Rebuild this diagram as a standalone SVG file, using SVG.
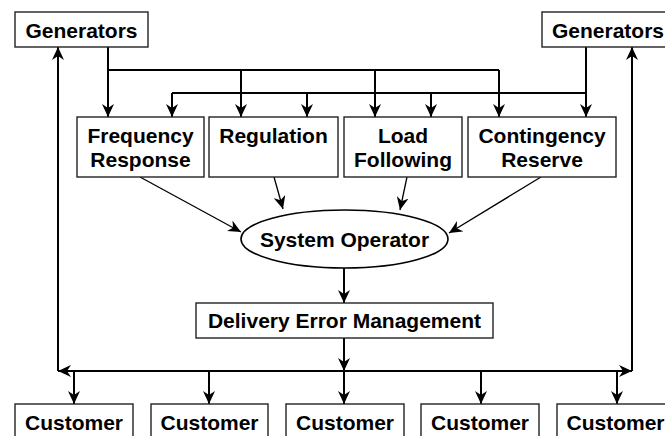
<svg xmlns="http://www.w3.org/2000/svg" width="665" height="436" viewBox="0 0 665 436">
<defs>
<style>
.box{fill:#fff;stroke:#222;stroke-width:1.4}
.t{font-family:"Liberation Sans",Arial,sans-serif;font-weight:bold;font-size:21px;fill:#000;text-anchor:middle}
.c{fill:none;stroke:#000;stroke-width:2;marker-end:url(#ah)}
.ln{fill:none;stroke:#000;stroke-width:2}
.thin{fill:none;stroke:#000;stroke-width:1.3;marker-end:url(#ah)}
</style>
<marker id="ah" markerUnits="userSpaceOnUse" markerWidth="14" markerHeight="12" viewBox="0 0 14 12" refX="13" refY="6" orient="auto">
<path d="M0,0 L13,6 L0,12 L4,6 z" fill="#000"/>
</marker>
</defs>
<rect width="665" height="436" fill="#fff"/>
<g id="connectors">
<path class="c" d="M108,47 V117"/>
<path class="ln" d="M108,70 H499"/>
<path class="c" d="M499,70 V117"/>
<path class="c" d="M241,70 V117"/>
<path class="c" d="M375,70 V117"/>
<path class="c" d="M586,47 V117"/>
<path class="ln" d="M586,93 H172"/>
<path class="c" d="M172,93 V117"/>
<path class="c" d="M307,93 V117"/>
<path class="c" d="M431,93 V117"/>
<path class="thin" d="M140,177 L241,232"/>
<path class="thin" d="M274,177 L283,209"/>
<path class="thin" d="M407,177 L400,210"/>
<path class="thin" d="M541,177 L449,233"/>
<path class="c" d="M344,268 V303"/>
<path class="c" d="M344,338 V371"/>
<path class="c" d="M344,371 H58"/>
<path class="c" d="M344,371 H632"/>
<path class="c" d="M58,371 V47"/>
<path class="c" d="M632,371 V47"/>
<path class="c" d="M74,371 V404"/>
<path class="c" d="M209,371 V404"/>
<path class="c" d="M344,371 V404"/>
<path class="c" d="M481,371 V404"/>
<path class="c" d="M617,371 V404"/>
</g>
<g id="gen-left"><rect class="box" x="15" y="12" width="133" height="35"/><text class="t" x="81.5" y="37.5">Generators</text></g>
<g id="gen-right"><rect class="box" x="542" y="12" width="135" height="35"/><text class="t" x="608" y="37.5">Generators</text></g>
<g id="freq"><rect class="box" x="77" y="117" width="127" height="60"/><text class="t" x="140.5" y="143">Frequency</text><text class="t" x="140.5" y="167">Response</text></g>
<g id="reg"><rect class="box" x="209" y="117" width="129" height="60"/><text class="t" x="273.5" y="143">Regulation</text></g>
<g id="load"><rect class="box" x="344" y="117" width="118" height="60"/><text class="t" x="403" y="143">Load</text><text class="t" x="403" y="167">Following</text></g>
<g id="cont"><rect class="box" x="468" y="117" width="148" height="60"/><text class="t" x="542" y="143">Contingency</text><text class="t" x="542" y="167">Reserve</text></g>
<g id="sysop"><ellipse cx="344.5" cy="239" rx="103.5" ry="29" fill="#fff" stroke="#000" stroke-width="1.6"/><text class="t" x="344.5" y="247">System Operator</text></g>
<g id="dem"><rect class="box" x="196" y="303" width="297" height="35"/><text class="t" x="344.5" y="328">Delivery Error Management</text></g>
<g id="cust1"><rect class="box" x="15" y="404" width="118" height="45"/><text class="t" x="74" y="430">Customer</text></g>
<g id="cust2"><rect class="box" x="151" y="404" width="117" height="45"/><text class="t" x="209.5" y="430">Customer</text></g>
<g id="cust3"><rect class="box" x="286" y="404" width="118" height="45"/><text class="t" x="345" y="430">Customer</text></g>
<g id="cust4"><rect class="box" x="421" y="404" width="118" height="45"/><text class="t" x="480" y="430">Customer</text></g>
<g id="cust5"><rect class="box" x="557" y="404" width="118" height="45"/><text class="t" x="615.5" y="430">Customer</text></g>
</svg>
